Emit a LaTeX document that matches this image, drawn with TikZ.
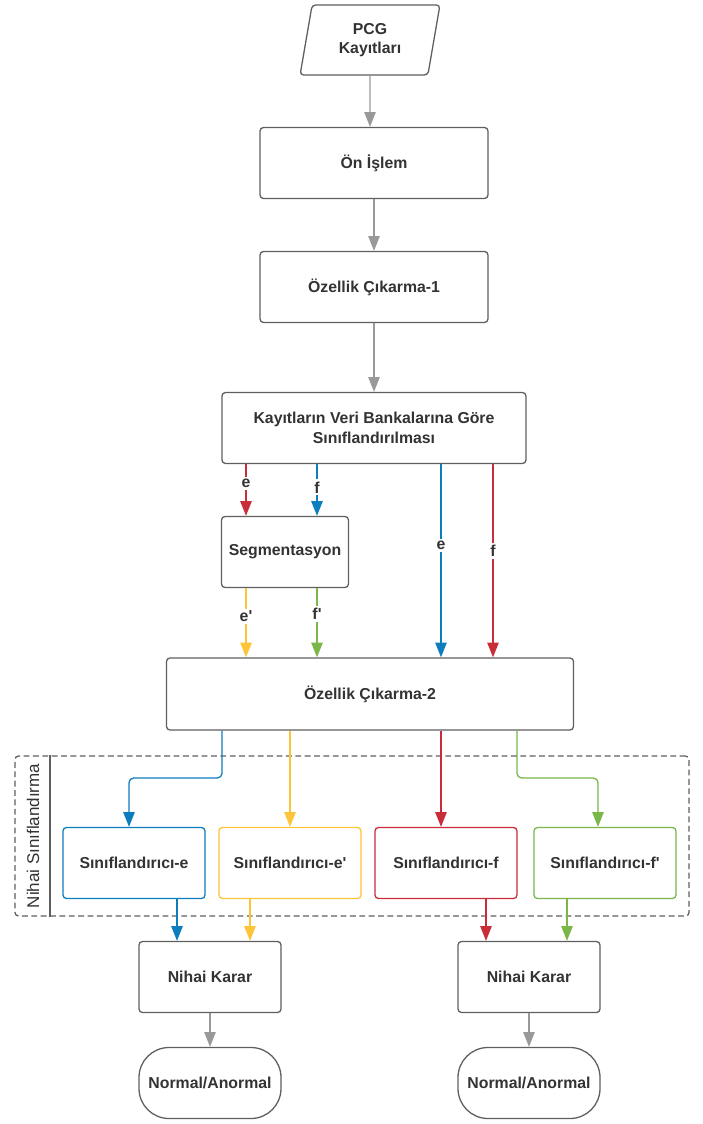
\documentclass[tikz,border=0pt]{standalone}
\usepackage{fontspec}
\setmainfont{Liberation Sans}
\usetikzlibrary{arrows.meta,shapes.geometric}
\definecolor{arrgray}{RGB}{153,153,153}
\definecolor{boxgray}{RGB}{95,95,95}
\definecolor{txtgray}{RGB}{51,51,51}
\definecolor{eblue}{RGB}{14,125,190}
\definecolor{fred}{RGB}{201,45,57}
\definecolor{eyellow}{RGB}{252,196,56}
\definecolor{fgreen}{RGB}{122,182,72}

\begin{document}
\begin{tikzpicture}[x=0.03cm, y=-0.03cm,
  box/.style={rectangle, draw=boxgray, line width=1.1pt, rounded corners=3pt, fill=white, text=txtgray,
    font=\bfseries\fontsize{13.5}{16.5}\selectfont, align=center, minimum height=2.13cm},
  arr/.style={-{Triangle[length=0.44cm,width=0.34cm]}, line width=1.1pt},
  lbl/.style={fill=white, text=txtgray, font=\bfseries\fontsize{13.5}{16.5}\selectfont, inner sep=2pt}]
\useasboundingbox (0,0) rectangle (702,1124);

\node (pcg) [box, trapezium, trapezium left angle=80, trapezium right angle=100, trapezium stretches=true,
  minimum width=4.2cm, minimum height=2.1cm] at (370,40) {PCG\\Kayıtları};
\node (onislem) [box, minimum width=6.84cm] at (374,163) {Ön İşlem};
\node (ozc1) [box, minimum width=6.84cm] at (374,287) {Özellik Çıkarma-1};
\node (kayit) [box, minimum width=9.12cm] at (374,428) {Kayıtların Veri Bankalarına Göre\\Sınıflandırılması};
\node (segm) [box, minimum width=3.81cm] at (285,552) {Segmentasyon};
\node (ozc2) [box, minimum width=12.21cm, minimum height=2.16cm] at (370,694) {Özellik Çıkarma-2};

\node (nihai) [draw=boxgray, dash pattern=on 5pt off 3pt, line width=1.1pt, rounded corners=3pt,
  minimum width=20.22cm, minimum height=4.8cm] at (352,836) {};
\draw[boxgray, line width=1.1pt] (50,0 |- nihai.north) -- (50,0 |- nihai.south);
\node (nihailbl) [rotate=90, text=txtgray, font=\fontsize{14.5}{17}\selectfont] at (33,836) {Nihai Sınıflandırma};

\node (clse) [box, draw=eblue, minimum width=4.26cm] at (134,863) {Sınıflandırıcı-e};
\node (clsep) [box, draw=eyellow, minimum width=4.26cm] at (290,863) {Sınıflandırıcı-e\textquotesingle};
\node (clsf) [box, draw=fred, minimum width=4.26cm] at (446,863) {Sınıflandırıcı-f};
\node (clsfp) [box, draw=fgreen, minimum width=4.26cm] at (605,863) {Sınıflandırıcı-f\textquotesingle};

\node (karar1) [box, minimum width=4.26cm] at (210,977) {Nihai Karar};
\node (karar2) [box, minimum width=4.26cm] at (529,977) {Nihai Karar};
\node (sonuc1) [box, rounded corners=0.9cm, minimum width=4.26cm] at (210,1083) {Normal/Anormal};
\node (sonuc2) [box, rounded corners=0.9cm, minimum width=4.26cm] at (529,1083) {Normal/Anormal};

\draw[arr, arrgray] (pcg) -- (370,0 |- onislem.north);
\draw[arr, arrgray] (onislem) -- (ozc1);
\draw[arr, arrgray] (ozc1) -- (kayit);

\draw[arr, fred] (246,0 |- kayit.south) -- node[lbl, pos=0.38] {e} (246,0 |- segm.north);
\draw[arr, eblue] (317,0 |- kayit.south) -- node[lbl, pos=0.45] {f} (317,0 |- segm.north);
\draw[arr, eblue] (441,0 |- kayit.south) -- node[lbl, pos=0.42] {e} (441,0 |- ozc2.north);
\draw[arr, fred] (493,0 |- kayit.south) -- node[lbl, pos=0.45] {f} (493,0 |- ozc2.north);
\draw[arr, eyellow] (246,0 |- segm.south) -- node[lbl, pos=0.41] {e\textquotesingle} (246,0 |- ozc2.north);
\draw[arr, fgreen] (317,0 |- segm.south) -- node[lbl, pos=0.37] {f\textquotesingle} (317,0 |- ozc2.north);

\draw[arr, eblue, rounded corners=4pt] (222,0 |- ozc2.south) -- (222,778) -| (129,0 |- clse.north);
\draw[arr, eyellow] (290,0 |- ozc2.south) -- (clsep);
\draw[arr, fred] (441,0 |- ozc2.south) -- (441,0 |- clsf.north);
\draw[arr, fgreen, rounded corners=4pt] (517,0 |- ozc2.south) -- (517,778) -| (598,0 |- clsfp.north);

\draw[arr, eblue] (177,0 |- clse.south) -- (177,0 |- karar1.north);
\draw[arr, eyellow] (250,0 |- clsep.south) -- (250,0 |- karar1.north);
\draw[arr, fred] (486,0 |- clsf.south) -- (486,0 |- karar2.north);
\draw[arr, fgreen] (567,0 |- clsfp.south) -- (567,0 |- karar2.north);

\draw[arr, arrgray] (karar1) -- (sonuc1);
\draw[arr, arrgray] (karar2) -- (sonuc2);
\end{tikzpicture}
\end{document}
